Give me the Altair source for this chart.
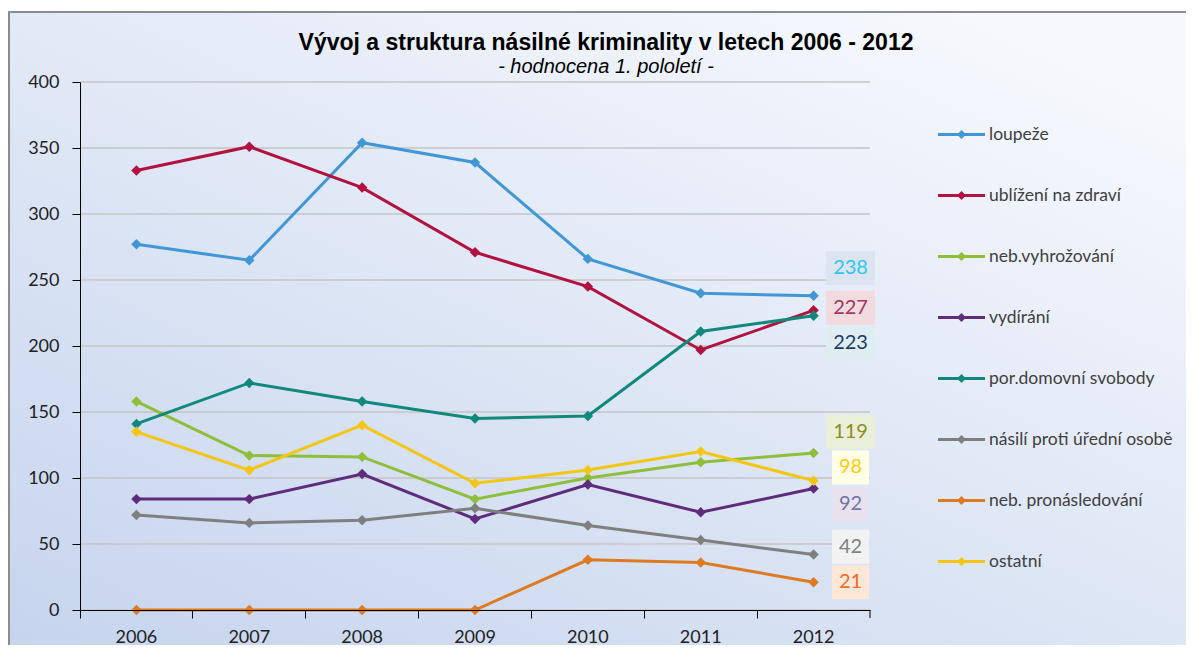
import altair as alt
import pandas as pd

# ---------------- data ----------------
years = ["2006", "2007", "2008", "2009", "2010", "2011", "2012"]
series_names = [
    "loupeže",
    "ublížení na zdraví",
    "neb.vyhrožování",
    "vydírání",
    "por.domovní svobody",
    "násilí proti úřední osobě",
    "neb. pronásledování",
    "ostatní",
]
loupeze = [277, 265, 354, 339, 266, 240, 238]
ublizeni = [333, 351, 320, 271, 245, 197, 227]
vyhrozovani = [158, 117, 116, 84, 100, 112, 119]
vydirani = [84, 84, 103, 69, 95, 74, 92]
por_dom = [141, 172, 158, 145, 147, 211, 223]
nasili = [72, 66, 68, 77, 64, 53, 42]
pronasledovani = [0, 0, 0, 0, 38, 36, 21]
ostatni = [135, 106, 140, 96, 106, 120, 98]

y_ticks = [0, 50, 100, 150, 200, 250, 300, 350, 400]

# data-label anchor (value units) for the 2012 labels, as placed in the source chart
label_anchor = [259, 229, 135, 80, 202, 48, 21, 108]

# ---------------- styles ----------------
line_colors = ["#4197D6", "#B2123F", "#8FBE3B", "#5F2C7B", "#10897C",
               "#7F7F7F", "#DE7A20", "#F3C612"]
label_text_colors = ["#2EC6F7", "#A33560", "#8E8E22", "#7373A6", "#1E3A66",
                     "#808080", "#F26A1E", "#FFCA08"]
label_bg_colors = ["#DCE4EF", "#F1DBDE", "#EAEFDA", "#E7E2EE", "#DDEDF2",
                   "#F2F2F2", "#FDE8D8", "#FFFFE6"]

all_values = [loupeze, ublizeni, vyhrozovani, vydirani, por_dom, nasili,
              pronasledovani, ostatni]
color_of = dict(zip(series_names, line_colors))

rows = []
for name, vals in zip(series_names, all_values):
    for y, v in zip(years, vals):
        rows.append({"year": y, "series": name, "value": v})
df = pd.DataFrame(rows)
df["lc"] = df["series"].map(color_of)

lab_rows = []
for i, (name, vals) in enumerate(zip(series_names, all_values)):
    lab_rows.append({
        "year": years[-1],
        "series": name,
        "value": vals[-1],
        "pos": label_anchor[i],
        "fg": label_text_colors[i],
        "bg": label_bg_colors[i],
    })
lab_df = pd.DataFrame(lab_rows)
grid_df = pd.DataFrame({"tick": y_ticks})

W, H = 790, 528

xscale = alt.Scale(type="band", domain=years, paddingInner=0, paddingOuter=0)
yscale = alt.Scale(domain=[0, 400], nice=False, zero=True)
cscale = alt.Scale(domain=series_names, range=line_colors)

x_axis = alt.Axis(title=None, bandPosition=0, labelFont="Lato", labelFontSize=18,
                  labelColor="#222222", labelAngle=0, tickSize=8, tickColor="#000000",
                  domainColor="#000000", labelPadding=10, grid=False, zindex=2)
y_axis = alt.Axis(title=None, values=y_ticks,
                  labelFont="Lato", labelFontSize=18, labelColor="#222222",
                  tickSize=8, tickColor="#000000", domainColor="#000000",
                  labelPadding=13, grid=False, zindex=2)

background = alt.Chart(alt.Data(values=[{}])).mark_rect(
    fill=alt.Gradient(
        gradient="linear", x1=0, y1=1, x2=0.8, y2=0,
        stops=[alt.GradientStop(offset=0, color="#C4D3ED"),
               alt.GradientStop(offset=1, color="#F6F8FD")],
    ),
    stroke="#8C8C8C", strokeWidth=2,
).encode(x=alt.value(-71), x2=alt.value(1130), y=alt.value(-70), y2=alt.value(600))

grid = alt.Chart(grid_df).mark_rule(color="#C4C4C4", strokeWidth=1.5).encode(
    y=alt.Y("tick:Q", scale=yscale),
    x=alt.value(0), x2=alt.value(W),
)

lines = alt.Chart(df).mark_line(strokeWidth=3).encode(
    x=alt.X("year:O", scale=xscale, axis=x_axis),
    y=alt.Y("value:Q", scale=yscale, axis=y_axis),
    stroke=alt.Stroke("lc:N", scale=None),
    detail="series:N",
)

legend_path = ("M-1,-0.065L1,-0.065L1,0.065L-1,0.065Z"
               "M0,-0.19L0.19,0L0,0.19L-0.19,0Z")

points = alt.Chart(df).mark_point(shape="diamond", filled=True, size=110, opacity=1).encode(
    x=alt.X("year:O", scale=xscale),
    y=alt.Y("value:Q", scale=yscale),
    color=alt.Color("series:N", scale=cscale, legend=alt.Legend(
        title=None, orient="none", legendX=858, legendY=29,
        symbolType=legend_path, symbolSize=2209, symbolStrokeWidth=0,
        symbolOpacity=1,
        labelFont="Lato", labelFontSize=17.5, labelColor="#404040",
        labelOffset=4, rowPadding=29, padding=0, labelLimit=300, zindex=2,
    )),
)

box3 = "M-1.44,-1L1.44,-1L1.44,1L-1.44,1Z"
box2 = "M-1.09,-1L1.09,-1L1.09,1L-1.09,1Z"

label_boxes = alt.Chart(lab_df).mark_point(filled=True, size=1156, opacity=1,
                                           xOffset=37).encode(
    x=alt.X("year:O", scale=xscale),
    y=alt.Y("pos:Q", scale=yscale),
    fill=alt.Fill("bg:N", scale=None),
    shape=alt.condition(alt.datum.value >= 100, alt.value(box3), alt.value(box2)),
)

label_text = alt.Chart(lab_df).mark_text(font="Lato", fontSize=20, xOffset=37,
                                         align="center", baseline="middle").encode(
    x=alt.X("year:O", scale=xscale),
    y=alt.Y("pos:Q", scale=yscale),
    fill=alt.Fill("fg:N", scale=None),
    text=alt.Text("value:Q"),
)

end_tick = alt.Chart(alt.Data(values=[{}])).mark_rule(color="#000000", strokeWidth=1).encode(
    x=alt.value(W), y=alt.value(H), y2=alt.value(H + 8)
)

chart = alt.layer(background, grid, lines, points, label_boxes, label_text, end_tick).properties(
    width=W, height=H,
    autosize=alt.AutoSizeParams(type="none"),
    padding={"left": 72, "top": 74, "right": 316, "bottom": 35},
    title=alt.TitleParams(
        text="Vývoj a struktura násilné kriminality v letech 2006 - 2012",
        subtitle="- hodnocena 1. pololetí -",
        font="Liberation Sans", fontSize=23, fontWeight="bold", color="#000000",
        subtitleFont="Liberation Sans", subtitleFontSize=20,
        subtitleFontStyle="italic", subtitleColor="#000000",
        anchor="middle", dx=131, offset=-66, subtitlePadding=2, zindex=2,
    ),
).configure_view(stroke=None).configure(background="#FFFFFF")

chart.save("out.html", embed_options={"renderer": "svg", "actions": False})
